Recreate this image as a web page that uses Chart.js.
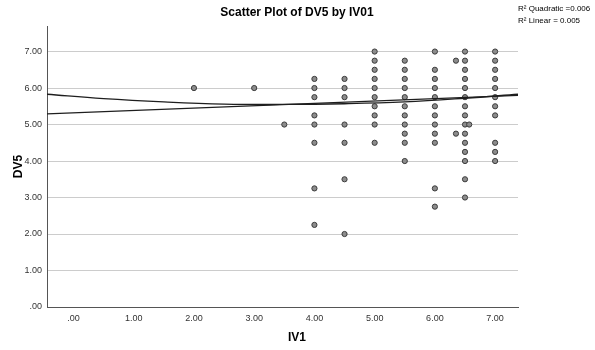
<!DOCTYPE html>
<html>
<head>
<meta charset="utf-8">
<script src="https://cdn.jsdelivr.net/npm/chart.js@4.4.0/dist/chart.umd.min.js"></script>
<style>
    html, body { margin: 0; padding: 0; background: #fff; }
    #wrap { width: 595px; height: 350px; }
</style>
</head>
<body>
<div id="wrap"><canvas id="scatterChart" width="595" height="350"></canvas></div>
<script>
// Scatter plot of DV5 by IV01 with linear and quadratic fit lines

// observed scores: one list of DV5 values for each IV1 value
const iv1Values = [2, 3, 3.5, 4, 4.5, 5, 5.5, 6, 6.35, 6.5, 6.57, 7];
const dv5Values = [
    [6],
    [6],
    [5],
    [6.25, 6, 5.75, 5.25, 5, 4.5, 3.25, 2.25],
    [6.25, 6, 5.75, 5, 4.5, 3.5, 2],
    [7, 6.75, 6.5, 6.25, 6, 5.75, 5.5, 5.25, 5, 4.5],
    [6.75, 6.5, 6.25, 6, 5.75, 5.5, 5.25, 5, 4.75, 4.5, 4],
    [7, 6.5, 6.25, 6, 5.75, 5.5, 5.25, 5, 4.75, 4.5, 3.25, 2.75],
    [6.75, 4.75],
    [7, 6.75, 6.5, 6.25, 6, 5.75, 5.5, 5.25, 5, 4.75, 4.5, 4.25, 4, 3.5, 3],
    [5],
    [7, 6.75, 6.5, 6.25, 6, 5.75, 5.5, 5.25, 4.5, 4.25, 4]
];

// fit lines
const linearX = [-0.44, 7.38];
const linearY = [5.29, 5.80];
const quadX = [-0.44, 0.5, 1.5, 2.5, 3.5, 4.5, 5.5, 6.5, 7.38];
const quadY = [5.83, 5.71, 5.62, 5.56, 5.55, 5.57, 5.62, 5.72, 5.83];

const xTicks = [0, 1, 2, 3, 4, 5, 6, 7];
const yTicks = [0, 1, 2, 3, 4, 5, 6, 7];
const fitStats = ['R\u00B2 Quadratic =0.006', 'R\u00B2 Linear = 0.005'];

const FONT = '"Liberation Sans", Arial, sans-serif';

function formatTick(value) {
    return value === 0 ? '.00' : value.toFixed(2);
}

function toPoints(xs, ys) {
    return xs.map((x, i) => ({ x: x, y: ys[i] }));
}

const scatterPoints = [];
iv1Values.forEach((x, i) => {
    dv5Values[i].forEach(y => scatterPoints.push({ x: x, y: y }));
});

// titles and R2 notes (centred on the whole figure, like SPSS)
const textPlugin = {
    id: 'spssText',
    afterDraw(chart) {
        const ctx = chart.ctx;
        ctx.save();
        ctx.fillStyle = '#000';
        ctx.textAlign = 'center';
        ctx.textBaseline = 'middle';
        ctx.font = 'bold 12px ' + FONT;
        ctx.fillText('Scatter Plot of DV5 by IV01', 297, 13);
        ctx.fillText('IV1', 297, 338);
        ctx.textAlign = 'left';
        ctx.font = '8px ' + FONT;
        fitStats.forEach((t, i) => ctx.fillText(t, 518, 9 + i * 12));
        ctx.restore();
    }
};

function createScatterChart() {
    const ctx = document.getElementById('scatterChart');
    if (!ctx) return;

    return new Chart(ctx.getContext('2d'), {
        type: 'scatter',
        data: {
            datasets: [
                {
                    label: 'Quadratic',
                    data: toPoints(quadX, quadY),
                    showLine: true,
                    pointRadius: 0,
                    borderColor: '#1e1e1e',
                    borderWidth: 1.3,
                    tension: 0.4,
                    order: 0
                },
                {
                    label: 'Linear',
                    data: toPoints(linearX, linearY),
                    showLine: true,
                    pointRadius: 0,
                    borderColor: '#1e1e1e',
                    borderWidth: 1.3,
                    order: 0
                },
                {
                    label: 'DV5',
                    data: scatterPoints,
                    pointRadius: 2.6,
                    borderWidth: 1,
                    backgroundColor: '#8c8c8c',
                    borderColor: '#3c3c3c',
                    order: 1
                }
            ]
        },
        options: {
            responsive: false,
            animation: false,
            layout: {
                padding: { top: 26, right: 77, left: 0, bottom: 0 }
            },
            plugins: {
                legend: { display: false },
                tooltip: { enabled: false }
            },
            scales: {
                x: {
                    type: 'linear',
                    min: -0.44,
                    max: 7.38,
                    afterBuildTicks: s => { s.ticks = xTicks.map(v => ({ value: v })); },
                    afterFit: s => { s.height = 43; },
                    grid: { display: false, drawTicks: false },
                    border: { color: '#555', width: 1 },
                    ticks: {
                        callback: formatTick,
                        padding: 6,
                        color: '#333',
                        font: { family: FONT, size: 9 },
                        maxRotation: 0
                    }
                },
                y: {
                    type: 'linear',
                    min: 0,
                    max: 7.7,
                    afterBuildTicks: s => { s.ticks = yTicks.map(v => ({ value: v })); },
                    afterFit: s => { s.width = 47; },
                    grid: { color: '#cccccc', drawTicks: false },
                    border: { color: '#555', width: 1 },
                    ticks: {
                        callback: formatTick,
                        padding: 5,
                        color: '#333',
                        font: { family: FONT, size: 9 }
                    },
                    title: {
                        display: true,
                        text: 'DV5',
                        color: '#000',
                        font: { family: FONT, size: 12, weight: 'bold' },
                        padding: { top: 11, bottom: 0 }
                    }
                }
            }
        },
        plugins: [textPlugin]
    });
}

document.addEventListener('DOMContentLoaded', function() {
    if (typeof Chart !== 'undefined') {
        createScatterChart();
    }
});
</script>
</body>
</html>
